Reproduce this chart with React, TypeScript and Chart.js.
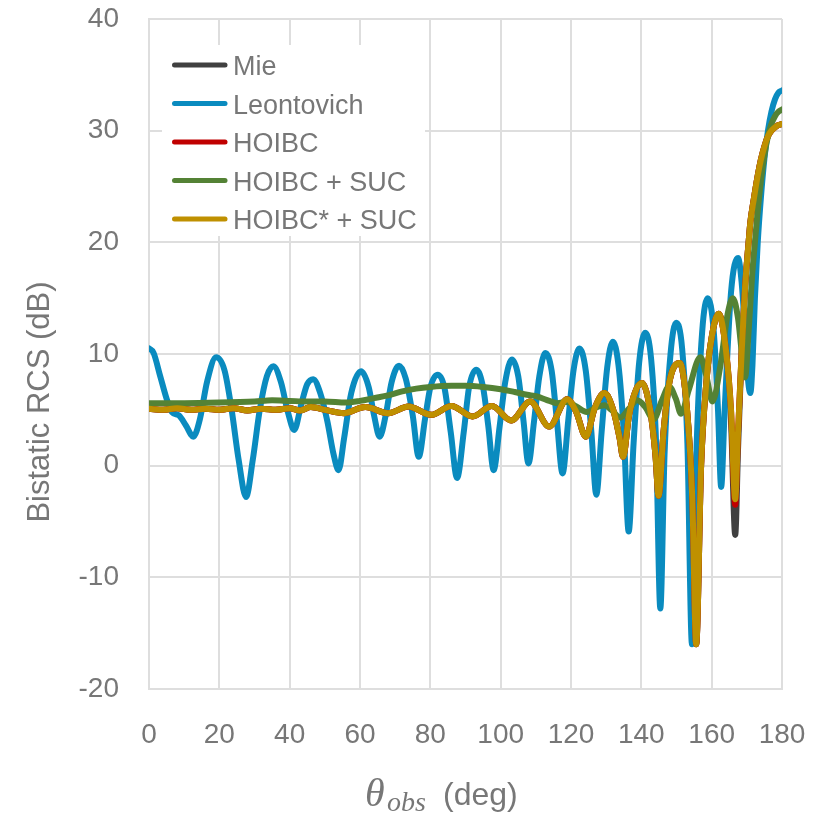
import React, { useEffect, useRef } from "react";
import { Chart, registerables } from "chart.js";
Chart.register(...registerables);

// ---- data: [theta (deg), RCS (dB)] ----
const leontovich: [number, number][] = [
  [0, 10.5], [1.3, 10.1], [3.2, 8.0], [5.1, 5.9], [6.5, 4.8], [8.5, 4.5], [10.5, 3.6], [12.6, 2.6],
  [14.5, 4.2], [16.5, 7.5], [19.1, 9.7], [21.5, 8.5], [23.5, 5], [25.5, 0.5], [27.6, -2.8], [29.5, 0.5],
  [31.5, 5], [33.5, 8], [35.4, 8.9], [37.5, 7.5], [39.5, 4.8], [41.3, 3.2], [43.3, 5.5], [45, 7.3],
  [46.7, 7.75], [48.7, 6.5], [50.7, 4], [52.5, 1], [53.9, -0.4], [55.5, 2.5], [57.5, 6.5], [60.3, 8.45],
  [62.5, 7], [64, 4.5], [65.6, 2.6], [67.3, 4.5], [69, 7.5], [71.1, 8.95], [73, 7.8], [75, 4.5],
  [76.7, 0.8], [78.5, 4.2], [80, 7], [82.1, 8.15], [84, 7], [85.8, 3], [87.6, -1.1], [89.5, 3],
  [91, 7], [93.1, 8.6], [95, 7], [96.5, 3.5], [98, -0.4], [99.7, 3.5], [101.3, 7.5], [103.2, 9.5],
  [105, 8], [106.5, 4], [107.9, 0.2], [109.5, 4], [111, 8], [112.7, 10.1], [114.5, 8.5], [116, 4],
  [117.6, -0.7], [119.2, 4], [120.7, 8.5], [122.4, 10.5], [124.2, 8.5], [125.8, 3], [127.2, -2.6],
  [128.7, 3], [130.3, 8.8], [131.9, 11.1], [133.5, 9], [135, 3], [136.4, -5.9], [137.8, 2], [139.4, 9.3],
  [141.1, 11.9], [142.8, 9.5], [144.2, 2], [145.4, -12.8], [146.6, 1], [148.3, 10], [149.9, 12.8],
  [151.6, 10.5], [153.1, 2], [154.4, -16], [155.7, 1.5], [157.3, 12], [158.9, 15], [160.6, 12],
  [161.8, 5], [162.7, -1.9], [163.7, 5], [165.5, 15.5], [167.5, 18.6], [168.5, 16.5], [169.5, 12],
  [170.4, 7.5], [171, 6.5], [171.6, 9], [172.3, 15], [173.1, 20], [174, 24], [175, 27.5], [176, 30],
  [177, 31.7], [178, 32.8], [179, 33.4], [180, 33.6],
];

const hoibcStarSuc: [number, number][] = [
  [0, 5.1], [4, 5.0], [8, 5.15], [12, 5.0], [16, 5.1], [20, 5.0], [24, 5.15], [28, 4.95], [32, 5.1],
  [36, 5.0], [40, 5.15], [43, 4.95], [46, 5.25], [50, 5.0], [55.5, 4.7], [61.5, 5.25], [68, 4.7],
  [73.8, 5.3], [80.2, 4.55], [86, 5.35], [92, 4.4], [97.5, 5.35], [103, 4.05], [108.4, 5.75],
  [113.8, 3.5], [118.9, 5.95], [121.5, 4.8], [124.2, 2.6], [126.8, 5.2], [129.5, 6.5], [132, 5],
  [133.8, 2.5], [134.8, 0.8], [136.5, 4.5], [138.5, 6.8], [140.2, 7.4], [142.5, 5], [144, 1],
  [144.9, -2.7], [146.3, 3], [148, 7.5], [150.9, 9.2], [153, 5], [154.5, -3], [155.6, -16], [157, 0],
  [158.5, 7.5], [160, 11.5], [162, 13.6], [164, 10.5], [165.5, 5], [166.7, -3], [167.5, 3],
  [168.5, 10], [169.5, 16], [170.5, 20], [171, 21.8], [172, 23.9], [173, 25.8], [174, 27.4],
  [175, 28.6], [176, 29.5], [177, 30], [178, 30.3], [179, 30.5], [180, 30.6],
];

const hoibc: [number, number][] = [
  [0, 5.1], [4, 5.0], [8, 5.15], [12, 5.0], [16, 5.1], [20, 5.0], [24, 5.15], [28, 4.95], [32, 5.1],
  [36, 5.0], [40, 5.15], [43, 4.95], [46, 5.25], [50, 5.0], [55.5, 4.7], [61.5, 5.25], [68, 4.7],
  [73.8, 5.3], [80.2, 4.55], [86, 5.35], [92, 4.4], [97.5, 5.35], [103, 4.05], [108.4, 5.75],
  [113.8, 3.5], [118.9, 5.95], [121.5, 4.8], [124.2, 2.6], [126.8, 5.2], [129.5, 6.5], [132, 5],
  [133.8, 2.5], [134.8, 0.8], [136.5, 4.5], [138.5, 6.8], [140.2, 7.4], [142.5, 5], [144, 1],
  [144.9, -2.7], [146.3, 3], [148, 7.5], [150.9, 9.2], [153, 5], [154.5, -3], [155.6, -16], [157, 0],
  [158.5, 7.5], [160, 11.5], [162, 13.6], [164, 10.5], [165.5, 5], [166.7, -3.5], [167.5, 3],
  [168.5, 10], [169.5, 16], [170.5, 20], [171, 21.8], [172, 23.9], [173, 25.8], [174, 27.4],
  [175, 28.6], [176, 29.5], [177, 30], [178, 30.3], [179, 30.5], [180, 30.6],
];

const mie: [number, number][] = [
  [0, 5.1], [4, 5.0], [8, 5.15], [12, 5.0], [16, 5.1], [20, 5.0], [24, 5.15], [28, 4.95], [32, 5.1],
  [36, 5.0], [40, 5.15], [43, 4.95], [46, 5.25], [50, 5.0], [55.5, 4.7], [61.5, 5.25], [68, 4.7],
  [73.8, 5.3], [80.2, 4.55], [86, 5.35], [92, 4.4], [97.5, 5.35], [103, 4.05], [108.4, 5.75],
  [113.8, 3.5], [118.9, 5.95], [121.5, 4.8], [124.2, 2.6], [126.8, 5.2], [129.5, 6.5], [132, 5],
  [133.8, 2.5], [134.8, 0.8], [136.5, 4.5], [138.5, 6.8], [140.2, 7.4], [142.5, 5], [144, 1],
  [144.9, -2.7], [146.3, 3], [148, 7.5], [150.9, 9.2], [153, 5], [154.5, -3], [155.6, -16], [157, 0],
  [158.5, 7.5], [160, 11.5], [162, 13.6], [164, 10.5], [165.5, 4], [166.7, -6.2], [167.5, 1.5],
  [168.5, 10], [169.5, 16], [170.5, 20], [171, 21.8], [172, 23.9], [173, 25.8], [174, 27.4],
  [175, 28.6], [176, 29.5], [177, 30], [178, 30.3], [179, 30.5], [180, 30.6],
];

const hoibcSuc: [number, number][] = [
  [0, 5.6], [10, 5.6], [20, 5.65], [30, 5.75], [35, 5.85], [40, 5.8], [45, 5.75], [50, 5.75],
  [56, 5.65], [60, 5.8], [64, 6.05], [68, 6.3], [72, 6.65], [76, 6.9], [80, 7.05], [86, 7.15],
  [90, 7.15], [95, 7.05], [100, 6.85], [104, 6.6], [107.5, 6.35], [110.3, 6.2], [113, 5.9],
  [116, 5.6], [119, 5.7], [121.5, 5.3], [124.5, 4.8], [127, 5.2], [129.5, 5.4], [131.5, 5.0],
  [134, 4.3], [136.5, 5.1], [138.8, 5.85], [141, 5.3], [143.5, 4.15], [145.8, 5.8], [147.9, 7.1],
  [149.8, 6.0], [151.3, 4.65], [153.5, 6.8], [156.8, 9.7], [158.5, 8], [160.2, 5.75], [162.5, 9],
  [164.5, 13.5], [166, 15], [167.5, 13.2], [168.6, 10], [169.5, 7.9], [170.5, 12], [171.5, 17],
  [172.3, 20], [173, 22.5], [174, 25.5], [175, 27.8], [176, 29.5], [177, 30.6], [178, 31.3],
  [179, 31.7], [180, 31.9],
];

const seriesNames = ["Mie", "Leontovich", "HOIBC", "HOIBC + SUC", "HOIBC* + SUC"];
const seriesColors = ["#404040", "#0a8bbf", "#c00000", "#548235", "#bf9000"];
const seriesData = [mie, leontovich, hoibc, hoibcSuc, hoibcStarSuc];

const xMin = 0, xMax = 180, xStep = 20;
const yMin = -20, yMax = 40, yStep = 10;
const yTitle = "Bistatic RCS (dB)";
const xTitleSymbol = "θ";
const xTitleSub = "obs";
const xTitleUnit = "(deg)";

const TEXT = "#777777";
const GRID = "#dedede";
const SANS = "'Liberation Sans', Arial, sans-serif";
const SERIF = "'Liberation Serif', 'DejaVu Serif', serif";

const overlayPlugin = {
  id: "overlay",
  beforeDatasetsDraw(chart: any) {
    const ctx = chart.ctx as CanvasRenderingContext2D;
    ctx.save();
    ctx.fillStyle = "#ffffff";
    ctx.fillRect(162, 45, 263, 191);
    const rowY = [65, 103.5, 142, 180.5, 219];
    ctx.font = `27px ${SANS}`;
    ctx.textAlign = "left";
    ctx.textBaseline = "alphabetic";
    seriesNames.forEach((name, i) => {
      ctx.strokeStyle = seriesColors[i];
      ctx.lineWidth = 5;
      ctx.lineCap = "round";
      ctx.beginPath();
      ctx.moveTo(174.5, rowY[i]);
      ctx.lineTo(225, rowY[i]);
      ctx.stroke();
      ctx.fillStyle = TEXT;
      ctx.fillText(name, 233, rowY[i] + 10);
    });
    ctx.restore();
  },
  afterDraw(chart: any) {
    const ctx = chart.ctx as CanvasRenderingContext2D;
    ctx.save();
    ctx.fillStyle = TEXT;
    // y title
    ctx.translate(40, 402);
    ctx.rotate(-Math.PI / 2);
    ctx.font = `31px ${SANS}`;
    ctx.textAlign = "center";
    ctx.textBaseline = "middle";
    ctx.fillText(yTitle, 0, 0);
    ctx.restore();

    ctx.save();
    ctx.fillStyle = TEXT;
    ctx.textAlign = "left";
    ctx.textBaseline = "alphabetic";
    ctx.font = `italic 40px ${SERIF}`;
    ctx.fillText(xTitleSymbol, 365, 806);
    ctx.font = `italic 28px ${SERIF}`;
    ctx.fillText(xTitleSub, 387, 811);
    ctx.font = `32px ${SANS}`;
    ctx.fillText(xTitleUnit, 443, 805);
    ctx.restore();
  },
};

export default function App() {
  const ref = useRef<HTMLCanvasElement>(null);
  useEffect(() => {
    const canvas = ref.current;
    if (!canvas) return;
    const chart = new Chart(canvas, {
      type: "line",
      data: {
        datasets: seriesData.map((d, i) => ({
          label: seriesNames[i],
          data: d.map(([x, y]) => ({ x, y })),
          borderColor: seriesColors[i],
          backgroundColor: seriesColors[i],
          borderWidth: 6,
          pointRadius: 0,
          fill: false,
          cubicInterpolationMode: "monotone",
          borderCapStyle: "round",
          borderJoinStyle: "round",
          order: seriesNames.length - i,
        })),
      },
      options: {
        responsive: false,
        animation: false,
        events: [],
        layout: { autoPadding: false, padding: { left: 0, right: 37, top: 19, bottom: 0 } },
        plugins: { legend: { display: false }, tooltip: { enabled: false } },
        scales: {
          x: {
            type: "linear",
            min: xMin,
            max: xMax,
            ticks: { stepSize: xStep, color: TEXT, font: { family: SANS, size: 28 }, padding: 29, maxRotation: 0 },
            grid: { color: GRID, lineWidth: 2, drawTicks: false },
            border: { color: GRID, width: 2 },
            afterFit: (s: any) => {
              s.height = 124;
              s.paddingLeft = 0; s.paddingRight = 0; s.paddingTop = 0; s.paddingBottom = 0;
            },
          },
          y: {
            type: "linear",
            min: yMin,
            max: yMax,
            ticks: { stepSize: yStep, color: TEXT, font: { family: SANS, size: 28 }, padding: 30 },
            grid: { color: GRID, lineWidth: 2, drawTicks: false },
            border: { color: GRID, width: 2 },
            afterFit: (s: any) => {
              s.width = 149;
              s.paddingLeft = 0; s.paddingRight = 0; s.paddingTop = 0; s.paddingBottom = 0;
            },
          },
        },
      },
      plugins: [overlayPlugin],
    } as any);
    return () => chart.destroy();
  }, []);
  return (
    <div style={{ position: "absolute", left: 0, top: 0, width: 819, height: 813, background: "#ffffff" }}>
      <canvas ref={ref} width={819} height={813} style={{ display: "block" }} />
    </div>
  );
}
